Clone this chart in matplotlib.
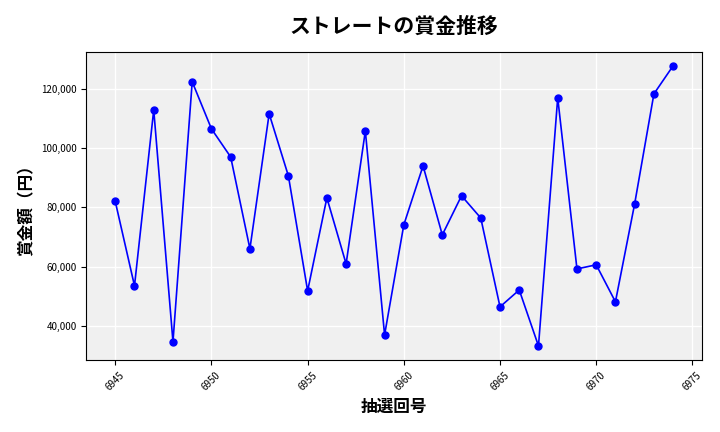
import matplotlib
matplotlib.use("Agg")
import matplotlib.pyplot as plt

plt.rcParams['font.family'] = ['Noto Sans CJK JP', 'DejaVu Sans']

draws = list(range(6945, 6975))
prizes = [82000, 53500, 112900, 34600, 122400, 106500, 97000, 66000, 111600, 90600,
          51800, 83200, 60900, 105800, 36900, 74100, 94000, 70700, 83900, 76400,
          46400, 52100, 33200, 117000, 59200, 60600, 48100, 81200, 118300, 127800]

fig = plt.figure(figsize=(7.2, 4.32), dpi=100)
ax = fig.add_axes([0.12, 0.167, 0.855, 0.713])
ax.set_facecolor('#f0f0f0')
ax.grid(True, color='white', linewidth=1)
ax.set_axisbelow(True)

ax.plot(draws, prizes, color='blue', marker='o', markersize=5, linewidth=1.2)

ax.set_title('ストレートの賞金推移', fontsize=15, fontweight='bold', pad=14)
ax.set_xlabel('抽選回号', fontsize=12, fontweight='bold')
ax.set_ylabel('賞金額（円）', fontsize=12, fontweight='bold')
ax.set_xticks(range(6945, 6976, 5))
ax.tick_params(axis='x', labelrotation=45, labelsize=7)
ax.tick_params(axis='y', labelsize=7)
ax.yaxis.set_major_formatter(matplotlib.ticker.FuncFormatter(lambda v, p: f'{int(v):,}'))
ax.set_xlim(6943.5, 6975.5)
ax.set_ylim(28500, 132500)

fig.savefig('out.png')
